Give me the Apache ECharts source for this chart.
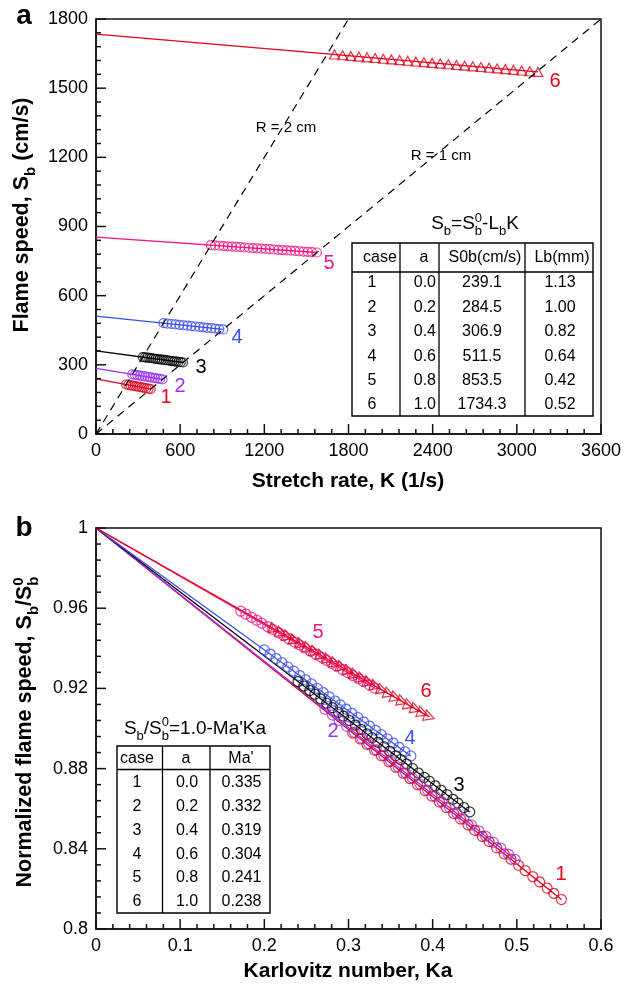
<!DOCTYPE html>
<html>
<head>
<meta charset="utf-8">
<script src="https://cdn.jsdelivr.net/npm/echarts@6/dist/echarts.min.js"></script>
<style>
  html, body { margin: 0; padding: 0; background: #fff; }
  #chart { width: 634px; height: 999px; }
</style>
</head>
<body>
<div id="chart"></div>
<script>
// ---------- cases ----------
const caseIds = ['1', '2', '3', '4', '5', '6'];
const caseColors = ['#e2001a', '#9a30f5', '#000000', '#3c4ff0', '#f0157f', '#e2001a'];

// ---------- panel a: flame speed Sb (cm/s) vs stretch rate K (1/s) ----------
const kCase1 = [215, 231, 247, 263, 279, 295, 311, 327, 343, 359, 375, 390];
const sbCase1 = [214.8, 213.0, 211.2, 209.4, 207.6, 205.8, 204.0, 202.1, 200.3, 198.5, 196.7, 195.0];

const kCase2 = [259, 277, 295, 313, 331, 349, 367, 385, 403, 421, 439, 457, 474];
const sbCase2 = [258.6, 256.8, 255.0, 253.2, 251.4, 249.6, 247.8, 246.0, 244.2, 242.4, 240.6, 238.8, 237.1];

const kCase3 = [334, 349, 364, 379, 394, 409, 424, 439, 454, 469, 484, 499, 514, 529, 544, 559, 574, 589, 604, 620];
const sbCase3 = [333.6, 332.4, 331.2, 329.9, 328.7, 327.5, 326.2, 325.0, 323.8, 322.5, 321.3, 320.1, 318.9, 317.6, 316.4, 315.2, 313.9, 312.7, 311.5, 310.2];

const kCase4 = [481, 509, 538, 566, 595, 623, 651, 680, 708, 737, 765, 793, 822, 850, 879, 907];
const sbCase4 = [480.7, 478.9, 477.1, 475.3, 473.4, 471.6, 469.8, 468.0, 466.2, 464.3, 462.5, 460.7, 458.9, 457.1, 455.2, 453.5];

const kCase5 = [819, 849, 879, 909, 939, 969, 999, 1029, 1059, 1089, 1119, 1149, 1179, 1209, 1239, 1269, 1299, 1329, 1359, 1389, 1419, 1449, 1479, 1509, 1539, 1575];
const sbCase5 = [819.1, 817.8, 816.6, 815.3, 814.1, 812.8, 811.5, 810.3, 809.0, 807.8, 806.5, 805.2, 804.0, 802.7, 801.5, 800.2, 798.9, 797.7, 796.4, 795.2, 793.9, 792.6, 791.4, 790.1, 788.9, 787.3];

const kCase6 = [1700, 1758, 1816, 1874, 1932, 1990, 2048, 2106, 2164, 2222, 2280, 2338, 2396, 2454, 2512, 2570, 2628, 2686, 2744, 2802, 2860, 2918, 2976, 3034, 3092, 3150];
const sbCase6 = [1645.9, 1642.9, 1639.9, 1636.9, 1633.8, 1630.8, 1627.8, 1624.8, 1621.8, 1618.8, 1615.7, 1612.7, 1609.7, 1606.7, 1603.7, 1600.7, 1597.6, 1594.6, 1591.6, 1588.6, 1585.6, 1582.6, 1579.5, 1576.5, 1573.5, 1570.5];

// linear fits Sb = Sb0 - Lb K, drawn from K = 0 to the last point
const fitKStart = [0, 0, 0, 0, 0, 0];
const fitKEnd = [390, 474, 620, 907, 1575, 3150];
const fitSbStart = [239.1, 284.5, 361.0, 511.5, 853.5, 1734.3];
const fitSbEnd = [195.0, 237.1, 310.2, 453.5, 787.3, 1570.5];

// constant-radius guides Sb = R K / 2
const guideR2K = [0, 1800];
const guideR2Sb = [0, 1800];
const guideR1K = [0, 3600];
const guideR1Sb = [0, 1800];

// ---------- panel b: Sb/Sb0 vs Karlovitz number ----------
const kaCase1 = [0.305, 0.314, 0.322, 0.331, 0.339, 0.348, 0.356, 0.365, 0.373, 0.382, 0.391, 0.399, 0.408, 0.416, 0.425, 0.433, 0.442, 0.450, 0.459, 0.467, 0.476, 0.485, 0.493, 0.502, 0.510, 0.519, 0.527, 0.536, 0.544, 0.553];
const nsCase1 = [0.8978, 0.8948, 0.8921, 0.8891, 0.8864, 0.8834, 0.8807, 0.8777, 0.8750, 0.8720, 0.8690, 0.8663, 0.8633, 0.8606, 0.8576, 0.8549, 0.8519, 0.8492, 0.8462, 0.8436, 0.8405, 0.8375, 0.8348, 0.8318, 0.8291, 0.8261, 0.8235, 0.8204, 0.8178, 0.8147];

const kaCase2 = [0.272, 0.281, 0.289, 0.298, 0.307, 0.316, 0.324, 0.333, 0.342, 0.350, 0.359, 0.368, 0.376, 0.385, 0.394, 0.403, 0.411, 0.420, 0.429, 0.437, 0.446, 0.455, 0.463, 0.472, 0.481, 0.490, 0.498];
const nsCase2 = [0.9097, 0.9067, 0.9041, 0.9011, 0.8981, 0.8951, 0.8924, 0.8894, 0.8865, 0.8838, 0.8808, 0.8778, 0.8752, 0.8722, 0.8692, 0.8662, 0.8635, 0.8606, 0.8576, 0.8549, 0.8519, 0.8489, 0.8463, 0.8433, 0.8403, 0.8373, 0.8347];

const kaCase3 = [0.240, 0.247, 0.254, 0.260, 0.267, 0.274, 0.281, 0.288, 0.294, 0.301, 0.308, 0.315, 0.322, 0.328, 0.335, 0.342, 0.349, 0.356, 0.362, 0.369, 0.376, 0.383, 0.390, 0.396, 0.403, 0.410, 0.417, 0.424, 0.430, 0.437, 0.444];
const nsCase3 = [0.9234, 0.9212, 0.9190, 0.9171, 0.9148, 0.9126, 0.9104, 0.9081, 0.9062, 0.9040, 0.9017, 0.8995, 0.8973, 0.8954, 0.8931, 0.8909, 0.8887, 0.8864, 0.8845, 0.8823, 0.8801, 0.8778, 0.8756, 0.8737, 0.8714, 0.8692, 0.8670, 0.8647, 0.8628, 0.8606, 0.8584];

const kaCase4 = [0.200, 0.207, 0.214, 0.221, 0.228, 0.235, 0.242, 0.249, 0.256, 0.263, 0.270, 0.277, 0.284, 0.290, 0.297, 0.304, 0.311, 0.318, 0.325, 0.332, 0.339, 0.346, 0.353, 0.360, 0.367, 0.374];
const nsCase4 = [0.9392, 0.9371, 0.9349, 0.9328, 0.9307, 0.9286, 0.9264, 0.9243, 0.9222, 0.9200, 0.9179, 0.9158, 0.9137, 0.9118, 0.9097, 0.9076, 0.9055, 0.9033, 0.9012, 0.8991, 0.8969, 0.8948, 0.8927, 0.8906, 0.8884, 0.8863];

const kaCase5 = [0.172, 0.178, 0.185, 0.191, 0.197, 0.204, 0.210, 0.217, 0.223, 0.229, 0.236, 0.242, 0.248, 0.255, 0.261, 0.267, 0.274, 0.280, 0.286, 0.293, 0.299, 0.305, 0.312, 0.318, 0.325, 0.331];
const nsCase5 = [0.9585, 0.9571, 0.9554, 0.9540, 0.9525, 0.9508, 0.9494, 0.9477, 0.9463, 0.9448, 0.9431, 0.9417, 0.9402, 0.9385, 0.9371, 0.9357, 0.9340, 0.9325, 0.9311, 0.9294, 0.9279, 0.9265, 0.9248, 0.9234, 0.9217, 0.9202];

const kaCase6 = [0.212, 0.220, 0.228, 0.236, 0.244, 0.252, 0.260, 0.268, 0.276, 0.284, 0.292, 0.300, 0.308, 0.316, 0.324, 0.332, 0.340, 0.348, 0.356, 0.364, 0.372, 0.380, 0.388, 0.396];
const nsCase6 = [0.9495, 0.9476, 0.9457, 0.9438, 0.9419, 0.9400, 0.9381, 0.9362, 0.9343, 0.9324, 0.9305, 0.9286, 0.9267, 0.9248, 0.9229, 0.9210, 0.9191, 0.9172, 0.9153, 0.9134, 0.9115, 0.9096, 0.9077, 0.9058];

// linear fits Sb/Sb0 = 1 - Ma' Ka
const fitKaEnd = [0.553, 0.498, 0.444, 0.374, 0.331, 0.396];
const fitNsEnd = [0.8147, 0.8347, 0.8584, 0.8863, 0.9202, 0.9058];

// ---------- tables ----------
const tabCase = ['1', '2', '3', '4', '5', '6'];
const tabA = ['0.0', '0.2', '0.4', '0.6', '0.8', '1.0'];
const tabSb0 = ['239.1', '284.5', '306.9', '511.5', '853.5', '1734.3'];
const tabLb = ['1.13', '1.00', '0.82', '0.64', '0.42', '0.52'];
const tabMa = ['0.335', '0.332', '0.319', '0.304', '0.241', '0.238'];

// ---------- axis ranges ----------
const axisRanges = [
  { x: [0, 3600, 600], y: [0, 1800, 300] },
  { x: [0, 0.6, 0.1], y: [0.8, 1, 0.04] }
];
const minorPerMajor = 5;

// ---------- layout ----------
const grids = [
  { left: 96, top: 19, width: 505, height: 415 },
  { left: 96, top: 528, width: 505, height: 401 }
];

// ---------- helpers ----------
const FF = '"Liberation Sans", Arial, Helvetica, sans-serif';
const measure = document.createElement('canvas').getContext('2d');
function textWidth(s, size, weight) {
  measure.font = (weight || 'normal') + ' ' + size + 'px ' + FF;
  return measure.measureText(s).width;
}

// Text with sub/superscripts; pieces are strings or {sub, sup}. (x, y) is the baseline anchor.
function mathText(pieces, opt) {
  const f = opt.size, fs = Math.round(f * 0.68), w = opt.weight || 'normal';
  const color = opt.color || '#000';
  const mid = 0.35;
  const kids = [];
  let x = 0;
  const put = (t, px, size, base) => kids.push({
    type: 'text', x: px, y: base - mid * size,
    style: { text: t, fill: color, fontSize: size, fontFamily: FF, fontWeight: w, align: 'left', verticalAlign: 'middle' }
  });
  pieces.forEach(p => {
    if (typeof p === 'string') {
      put(p, x, f, 0);
      x += textWidth(p, f, w);
    } else {
      let adv = 0;
      if (p.sub) { put(p.sub, x, fs, 0.3 * f); adv = Math.max(adv, textWidth(p.sub, fs, w)); }
      if (p.sup) { put(p.sup, x, fs, -0.42 * f); adv = Math.max(adv, textWidth(p.sup, fs, w)); }
      x += adv;
    }
  });
  const shift = opt.align === 'center' ? -x / 2 : (opt.align === 'right' ? -x : 0);
  kids.forEach(k => { k.x += shift; });
  return { type: 'group', x: opt.x, y: opt.y, rotation: opt.rotation || 0, silent: true, children: kids };
}

function label(text, x, y, size, color, extra) {
  return {
    type: 'text', x: x, y: y, silent: true,
    style: Object.assign({ text: text, fill: color || '#000', fontSize: size, fontFamily: FF, align: 'center', verticalAlign: 'middle' }, extra || {})
  };
}

function segment(x1, y1, x2, y2, width, color) {
  return { type: 'line', silent: true, z: 10, shape: { x1: x1, y1: y1, x2: x2, y2: y2 }, style: { stroke: color || '#000', lineWidth: width || 1.3 } };
}

function zip(xs, ys) { return xs.map((v, i) => [v, ys[i]]); }

const axisColor = '#111';
function valueAxis(range, gridIndex) {
  return {
    type: 'value', gridIndex: gridIndex, min: range[0], max: range[1], interval: range[2],
    axisLine: { show: true, onZero: false, lineStyle: { color: axisColor, width: 1.5 } },
    axisTick: { show: false },
    minorTick: { show: false },
    splitLine: { show: false },
    minorSplitLine: { show: false },
    axisLabel: {
      color: '#000', fontSize: 18, fontFamily: FF, margin: 8,
      formatter: v => String(Math.round(v * 10000) / 10000)
    }
  };
}

// ---------- series ----------
const kData = [kCase1, kCase2, kCase3, kCase4, kCase5, kCase6];
const sbData = [sbCase1, sbCase2, sbCase3, sbCase4, sbCase5, sbCase6];
const kaData = [kaCase1, kaCase2, kaCase3, kaCase4, kaCase5, kaCase6];
const nsData = [nsCase1, nsCase2, nsCase3, nsCase4, nsCase5, nsCase6];

const series = [];

function fitLine(axisIdx, pts, color, z) {
  return {
    type: 'line', xAxisIndex: axisIdx, yAxisIndex: axisIdx, data: pts, showSymbol: false, symbol: 'none',
    silent: true, z: z || 2, lineStyle: { color: color, width: 1.3 }
  };
}
function markers(axisIdx, pts, color, isTri, rotate, size, z) {
  return {
    type: 'scatter', xAxisIndex: axisIdx, yAxisIndex: axisIdx, data: pts, silent: true, z: z || 3,
    symbol: isTri ? 'triangle' : 'circle',
    symbolSize: isTri ? [size + 1, size] : size,
    symbolRotate: rotate || 0,
    itemStyle: { color: 'rgba(255,255,255,0)', borderColor: color, borderWidth: 1.2 }
  };
}

// panel a
for (let i = 0; i < 6; i++) {
  series.push(fitLine(0, [[fitKStart[i], fitSbStart[i]], [fitKEnd[i], fitSbEnd[i]]], caseColors[i], 2));
}
for (let i = 0; i < 6; i++) {
  series.push(markers(0, zip(kData[i], sbData[i]), caseColors[i], i === 5, 0, 9, 3));
}
[[guideR2K, guideR2Sb], [guideR1K, guideR1Sb]].forEach(g => {
  series.push({
    type: 'line', xAxisIndex: 0, yAxisIndex: 0, data: zip(g[0], g[1]), showSymbol: false, symbol: 'none',
    silent: true, z: 4, lineStyle: { color: '#000', width: 1.2, type: [8, 6] }
  });
});

// panel b
for (let i = 0; i < 6; i++) {
  series.push(fitLine(1, [[0, 1], [fitKaEnd[i], fitNsEnd[i]]], caseColors[i], 2));
}
[3, 2, 1, 0, 4, 5].forEach(i => {
  series.push(markers(1, zip(kaData[i], nsData[i]), caseColors[i], i === 5, -110, 10, 3));
});

// ---------- annotations ----------
const graphic = [];

// panel letters
graphic.push(label('a', 24, 16, 28, '#000', { fontWeight: 'bold' }));
graphic.push(label('b', 24, 528, 28, '#000', { fontWeight: 'bold' }));

// axis titles
graphic.push(label('Stretch rate, K (1/s)', 348, 481, 21, '#000', { fontWeight: 'bold' }));
graphic.push(label('Karlovitz number, Ka', 348, 971, 21, '#000', { fontWeight: 'bold' }));
graphic.push(mathText(['Flame speed, S', { sub: 'b' }, ' (cm/s)'],
  { x: 30, y: 215, size: 21.5, weight: 'bold', align: 'center', rotation: Math.PI / 2 }));
graphic.push(mathText(['Normalized flame speed, S', { sub: 'b' }, '/S', { sub: 'b', sup: '0' }],
  { x: 33, y: 732, size: 21.5, weight: 'bold', align: 'center', rotation: Math.PI / 2 }));

// radius guide labels
graphic.push(label('R = 2 cm', 286, 128, 15, '#000', { backgroundColor: '#fff', padding: [2, 3] }));
graphic.push(label('R = 1 cm', 441, 156, 15, '#000', { backgroundColor: '#fff', padding: [2, 3] }));

// case numbers
const numPosA = [[166, 397], [180, 386], [201, 367], [237, 337], [329, 263], [555, 81]];
const numPosB = [[561, 874], [333, 731], [459, 785], [410, 738], [318, 632], [426, 691]];
caseIds.forEach((c, i) => {
  graphic.push(label(c, numPosA[i][0], numPosA[i][1], 20, caseColors[i]));
  graphic.push(label(c, numPosB[i][0], numPosB[i][1], 20, caseColors[i]));
});

// table a
graphic.push(mathText(['S', { sub: 'b' }, '=S', { sub: 'b', sup: '0' }, '-L', { sub: 'b' }, 'K'],
  { x: 475, y: 230.5, size: 19, align: 'center' }));
graphic.push({ type: 'rect', silent: true, shape: { x: 352, y: 243, width: 241, height: 173 },
  style: { fill: '#fff', stroke: '#000', lineWidth: 1.4 } });
graphic.push(segment(352, 272, 593, 272));
[400, 439, 525].forEach(x => graphic.push(segment(x, 243, x, 416)));
graphic.push(label('case', 380, 258, 16));
graphic.push(label('a', 424, 258, 16));
graphic.push(label('S0b(cm/s)', 485, 258, 16));
graphic.push(label('Lb(mm)', 562, 258, 16));
const rowYA = [283, 307.5, 332, 356.5, 381, 405];
tabCase.forEach((c, i) => {
  graphic.push(label(c, 372, rowYA[i], 16));
  graphic.push(label(tabA[i], 436, rowYA[i], 16, '#000', { align: 'right' }));
  graphic.push(label(tabSb0[i], 482, rowYA[i], 16));
  graphic.push(label(tabLb[i], 560, rowYA[i], 16));
});

// table b
graphic.push(mathText(['S', { sub: 'b' }, '/S', { sub: 'b', sup: '0' }, "=1.0-Ma'Ka"],
  { x: 195, y: 735, size: 19, align: 'center' }));
graphic.push({ type: 'rect', silent: true, shape: { x: 117, y: 746, width: 153, height: 167 },
  style: { fill: '#fff', stroke: '#000', lineWidth: 1.4 } });
graphic.push(segment(117, 769.5, 270, 769.5));
[162.5, 210].forEach(x => graphic.push(segment(x, 746, x, 913)));
graphic.push(label('case', 137, 759, 16));
graphic.push(label('a', 186, 759, 16));
graphic.push(label("Ma'", 241, 759, 16));
const rowYB = [783, 807, 831, 854.5, 878, 902];
tabCase.forEach((c, i) => {
  graphic.push(label(c, 137, rowYB[i], 16));
  graphic.push(label(tabA[i], 187, rowYB[i], 16));
  graphic.push(label(tabMa[i], 241.5, rowYB[i], 16));
});

// ---------- chart ----------
const chart = echarts.init(document.getElementById('chart'), null, { renderer: 'canvas' });
chart.setOption({
  animation: false,
  backgroundColor: '#fff',
  textStyle: { fontFamily: FF },
  grid: grids.map(g => Object.assign({ show: true, borderColor: axisColor, borderWidth: 1.5 }, g)),
  xAxis: [valueAxis(axisRanges[0].x, 0), valueAxis(axisRanges[1].x, 1)],
  yAxis: [valueAxis(axisRanges[0].y, 0), valueAxis(axisRanges[1].y, 1)],
  series: series
});

// pixel position of a value on an axis, through the chart's own scale
function toPixel(finder, value, fallback) {
  let p = chart.convertToPixel(finder, value);
  if (Array.isArray(p)) p = p[0];
  return (typeof p === 'number' && isFinite(p)) ? p : fallback;
}

// inward major/minor ticks
axisRanges.forEach((r, gi) => {
  const g = grids[gi];
  const spanX = r.x[1] - r.x[0], spanY = r.y[1] - r.y[0];
  const baseY = toPixel({ yAxisIndex: gi }, r.y[0], g.top + g.height);
  const baseX = toPixel({ xAxisIndex: gi }, r.x[0], g.left);
  const nx = Math.round(spanX / r.x[2]) * minorPerMajor;
  for (let k = 0; k <= nx; k++) {
    const v = r.x[0] + k * r.x[2] / minorPerMajor;
    const px = toPixel({ xAxisIndex: gi }, v, g.left + (v - r.x[0]) / spanX * g.width);
    const len = k % minorPerMajor === 0 ? 10 : 5;
    graphic.push(segment(px, baseY, px, baseY - len, 1.5, axisColor));
  }
  const ny = Math.round(spanY / r.y[2]) * minorPerMajor;
  for (let k = 0; k <= ny; k++) {
    const v = r.y[0] + k * r.y[2] / minorPerMajor;
    const py = toPixel({ yAxisIndex: gi }, v, g.top + g.height - (v - r.y[0]) / spanY * g.height);
    const len = k % minorPerMajor === 0 ? 10 : 5;
    graphic.push(segment(baseX, py, baseX + len, py, 1.5, axisColor));
  }
});

chart.setOption({ graphic: graphic });
</script>
</body>
</html>
